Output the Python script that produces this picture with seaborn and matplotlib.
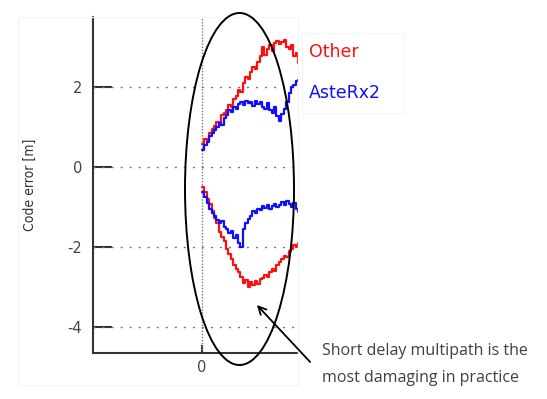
import numpy as np
import pandas as pd
import matplotlib
matplotlib.use("Agg")
import matplotlib.pyplot as plt
import seaborn as sns
from matplotlib.patches import Ellipse, Rectangle

# code error (m) vs multipath delay
other_upper = [0.58, 0.70, 0.66, 0.85, 0.95, 1.02, 1.12, 1.08, 1.30, 1.35,
               1.42, 1.55, 1.50, 1.70, 1.78, 1.92, 1.88, 2.10, 2.25, 2.20,
               2.38, 2.50, 2.45, 2.62, 2.78, 3.00, 2.80, 2.95, 3.05, 2.90,
               3.10, 3.15, 3.08, 3.12, 3.18, 3.00, 2.95, 3.05, 2.78, 2.85, 2.60]
asterx_upper = [0.42, 0.55, 0.62, 0.78, 0.85, 0.92, 1.00, 1.10, 1.05, 1.22,
                1.30, 1.42, 1.38, 1.50, 1.45, 1.58, 1.62, 1.55, 1.65, 1.60,
                1.63, 1.52, 1.66, 1.58, 1.62, 1.50, 1.45, 1.60, 1.42, 1.35,
                1.50, 1.28, 1.15, 1.32, 1.45, 1.62, 1.85, 2.00, 2.05, 2.15, 2.17]
other_lower = [-0.50, -0.62, -0.80, -0.92, -1.10, -1.28, -1.40, -1.62, -1.75, -1.85,
               -2.05, -2.18, -2.30, -2.45, -2.55, -2.62, -2.75, -2.90, -2.82, -3.00,
               -2.88, -2.95, -2.85, -2.92, -2.80, -2.78, -2.70, -2.76, -2.62, -2.55,
               -2.60, -2.45, -2.38, -2.30, -2.22, -2.25, -2.10, -2.05, -1.95, -2.00, -1.90]
asterx_lower = [-0.62, -0.75, -0.90, -1.05, -1.15, -1.22, -1.33, -1.40, -1.35, -1.50,
                -1.55, -1.65, -1.60, -1.78, -1.70, -1.90, -2.00, -1.55, -1.40, -1.30,
                -1.22, -1.10, -1.15, -1.05, -1.08, -0.98, -1.02, -0.95, -1.05, -0.98,
                -0.92, -1.00, -0.95, -0.88, -0.95, -0.85, -0.92, -1.00, -0.90, -1.05, -1.12]
delay = np.linspace(0, 1, len(other_upper))

y_ticks = [-4, -2, 0, 2]
x_ticks = [0]

sns.set_style("white")
plt.rcParams['font.family'] = ['DejaVu Sans']
plt.rcParams['axes.unicode_minus'] = False

fig = plt.figure(figsize=(5.47, 3.99), dpi=100)
ax = fig.add_axes([0.170, 0.1153, 0.375, 0.842])

for yv in y_ticks:
    ax.axhline(yv, color='#777777', lw=1.0, ls=(0, (1.5, 5)), zorder=1)
ax.axvline(0, color='#777777', lw=1.0, ls=(0, (1, 1.2)), zorder=1)

for vals, col in [(other_upper, '#ff1010'), (other_lower, '#ff1010'),
                  (asterx_upper, '#1010ff'), (asterx_lower, '#1010ff')]:
    df = pd.DataFrame({'delay': delay, 'err': vals})
    sns.lineplot(data=df, x='delay', y='err', ax=ax, color=col, lw=1.6,
                 drawstyle='steps-post', zorder=3)

ax.set_xlim(-1.135, 1.0)
ax.set_ylim(-4.65, 3.75)
ax.set_yticks(y_ticks)
ax.set_xticks(x_ticks)
ax.set_xlabel('')
ax.set_ylabel('Code error [m]', fontsize=10, color='#333333', family='DejaVu Sans',
              fontstretch='condensed', labelpad=22)
ax.tick_params(axis='both', left=True, bottom=True)
ax.tick_params(axis='y', direction='in', length=14, width=1.5, color='#333333',
               labelsize=10.5, labelcolor='#444444', pad=8)
ax.tick_params(axis='x', direction='in', length=6, width=1.5, color='#333333',
               labelsize=10.5, labelcolor='#444444', pad=5)
sns.despine(ax=ax)
ax.spines['left'].set_linewidth(1.5)
ax.spines['bottom'].set_linewidth(1.5)
ax.spines['left'].set_color('#333333')
ax.spines['bottom'].set_color('#333333')

# overlay in pixel coordinates for the annotation
ov = fig.add_axes([0, 0, 1, 1], facecolor='none')
ov.set_xlim(0, 547)
ov.set_ylim(399, 0)
ov.axis('off')
ov.add_patch(Rectangle((18, 17), 280, 368, fill=False, ec='#f6f6f6', lw=1))
ov.add_patch(Rectangle((302, 33), 102, 80, fill=False, ec='#f6f6f6', lw=1))
ov.add_patch(Ellipse((239.5, 189), 109, 352, fill=False, ec='black', lw=1.4))
ov.annotate('', xy=(255, 303), xytext=(312, 364),
            arrowprops=dict(arrowstyle='->', color='black', lw=1.3, mutation_scale=14))
ov.text(309, 52, 'Other', color='#ff1010', fontsize=12.5, va='center', ha='left')
ov.text(309, 93, 'AsteRx2', color='#1010ff', fontsize=12.5, va='center', ha='left')
ov.text(322, 351, 'Short delay multipath is the', color='#404040', fontsize=11.5,
        family='Open Sans', va='center', ha='left')
ov.text(322, 378, 'most damaging in practice', color='#404040', fontsize=11.5,
        family='Open Sans', va='center', ha='left')

fig.savefig('out.png', dpi=100)
